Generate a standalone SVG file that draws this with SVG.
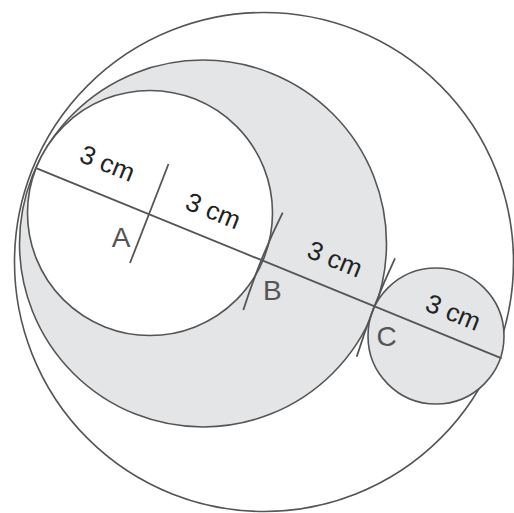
<svg xmlns="http://www.w3.org/2000/svg" width="514" height="513" viewBox="0 0 514 513">
  <style>
    .c { stroke: #555; stroke-width: 1.6; }
    .w { fill: #ffffff; }
    .g { fill: #e4e5e7; }
    .lbl { font-family: "Liberation Sans", Arial, sans-serif; font-size: 26px; fill: #222; text-anchor: middle; dominant-baseline: central; }
    .pt { font-family: "Liberation Sans", Arial, sans-serif; font-size: 28px; fill: #555; text-anchor: middle; dominant-baseline: central; }
    .ln { stroke: #555; stroke-width: 1.8; fill: none; }
  </style>
  <rect width="514" height="513" fill="#ffffff"/>
  <g id="outer-circle">
    <circle class="c w" cx="264" cy="262" r="249.5"/>
  </g>
  <g id="large-shaded-circle">
    <circle class="c g" cx="203" cy="243.5" r="183.5"/>
  </g>
  <g id="circle-A">
    <circle class="c w" cx="150" cy="213" r="122.5"/>
  </g>
  <g id="small-circle">
    <circle class="c g" cx="436" cy="336" r="68"/>
  </g>
  <g id="connectors">
    <line class="ln" x1="36.7" y1="168.3" x2="501.7" y2="358.3"/>
    <line class="ln" x1="168.5" y1="164" x2="130" y2="263"/>
    <path class="ln" d="M282.7 212.7 Q260 258 243.3 310"/>
    <path class="ln" d="M395 258.3 Q373 305 356.7 356.7"/>
  </g>
  <g id="labels">
    <text class="lbl" transform="translate(107.5 163.3) rotate(22)">3 cm</text>
    <text class="lbl" transform="translate(213.3 210.7) rotate(22)">3 cm</text>
    <text class="lbl" transform="translate(335 259) rotate(22)">3 cm</text>
    <text class="lbl" transform="translate(453.3 312.3) rotate(22)">3 cm</text>
    <text class="pt" x="121" y="237">A</text>
    <text class="pt" x="272.3" y="290.5">B</text>
    <text class="pt" x="386.7" y="336">C</text>
  </g>
</svg>
